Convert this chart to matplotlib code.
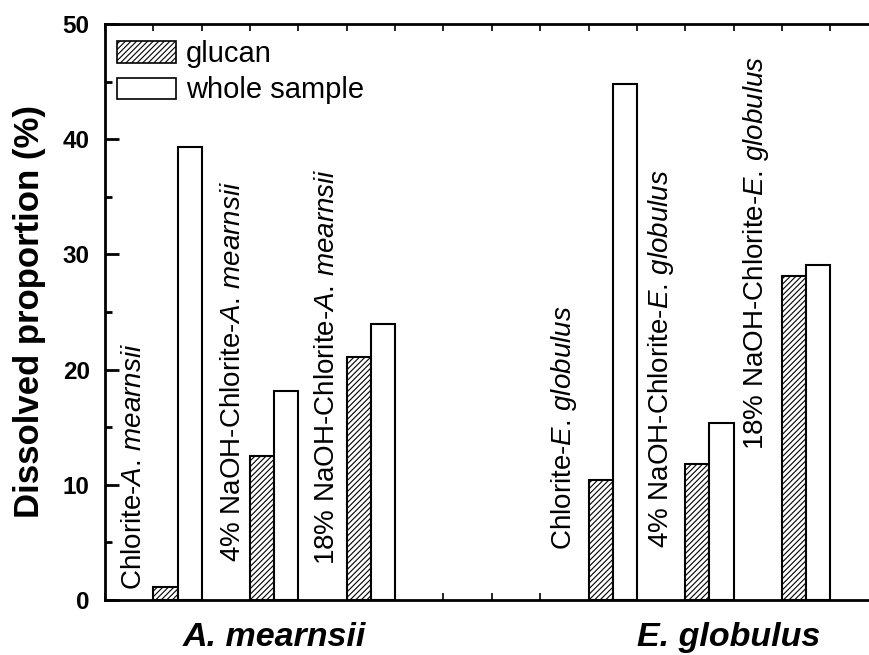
import matplotlib.pyplot as plt
from matplotlib.patches import Patch
from matplotlib.ticker import MultipleLocator
import matplotlib as mpl

plt.rcParams['font.family'] = ['Liberation Sans', 'DejaVu Sans']
mpl.rcParams['hatch.linewidth'] = 0.8
mpl.rcParams['mathtext.fontset'] = 'custom'
mpl.rcParams['mathtext.it'] = 'Liberation Sans:italic'
mpl.rcParams['mathtext.rm'] = 'Liberation Sans'

# data
glucan_pos = [1, 3, 5, 10, 12, 14]
whole_pos = [1.5, 3.5, 5.5, 10.5, 12.5, 14.5]
glucan = [1.1, 12.5, 21.1, 10.4, 11.8, 28.1]
whole = [39.3, 18.1, 24.0, 44.8, 15.4, 29.1]

labels = [
    r"Chlorite-$\mathit{A.\,mearnsii}$",
    r"4% NaOH-Chlorite-$\mathit{A.\,mearnsii}$",
    r"18% NaOH-Chlorite-$\mathit{A.\,mearnsii}$",
    r"Chlorite-$\mathit{E.\,globulus}$",
    r"4% NaOH-Chlorite-$\mathit{E.\,globulus}$",
    r"18% NaOH-Chlorite-$\mathit{E.\,globulus}$",
]
label_x = [0.6, 2.65, 4.6, 9.5, 11.5, 13.47]
label_y = [0.9, 3.3, 3.0, 4.3, 4.5, 13.0]

species = ["A. mearnsii", "E. globulus"]
species_x = [3.5, 12.9]

fig = plt.figure(figsize=(8.69, 6.55), dpi=100)
ax = fig.add_axes([105 / 869, 55 / 655, 1 - 105 / 869, 576 / 655])

ax.bar(glucan_pos, glucan, width=0.5, align='edge', color='white',
       edgecolor='black', hatch='//////', linewidth=1.5, label='glucan')
ax.bar(whole_pos, whole, width=0.5, align='edge', color='white',
       edgecolor='black', linewidth=1.5, label='whole sample')

for x, y, t in zip(label_x, label_y, labels):
    ax.text(x, y, t, rotation=90, ha='center', va='bottom', fontsize=20)

for x, t in zip(species_x, species):
    ax.text(x, -1.9, t, ha='center', va='top', fontsize=24.5,
            fontweight='bold', style='italic')

ax.set_xlim(0, 15.8)
ax.set_ylim(0, 50)
ax.set_ylabel('Dissolved proportion (%)', fontsize=25, fontweight='bold',
              labelpad=12)

ax.xaxis.set_major_locator(MultipleLocator(1))
ax.yaxis.set_major_locator(MultipleLocator(10))
ax.yaxis.set_minor_locator(MultipleLocator(5))
ax.tick_params(axis='x', which='major', direction='in', length=5, width=1.2,
               top=True, bottom=True, labelbottom=False)
ax.tick_params(axis='y', which='major', direction='in', length=10, width=2,
               labelsize=17.5, pad=11)
ax.tick_params(axis='y', which='minor', direction='in', length=5, width=2)
for lab in ax.get_yticklabels():
    lab.set_fontweight('bold')

ax.spines['right'].set_visible(False)
for s in ['left', 'top', 'bottom']:
    ax.spines[s].set_linewidth(2)

handles = [Patch(facecolor='white', edgecolor='black', hatch='//////', linewidth=1.2),
           Patch(facecolor='white', edgecolor='black', linewidth=1.2)]
ax.legend(handles, ['glucan', 'whole sample'], loc='upper left',
          bbox_to_anchor=(0.001, 0.992), frameon=False, fontsize=21,
          handlelength=2.0, handleheight=0.75, handletextpad=0.35,
          labelspacing=0.28, borderaxespad=0)

fig.savefig('out.png', dpi=100)
